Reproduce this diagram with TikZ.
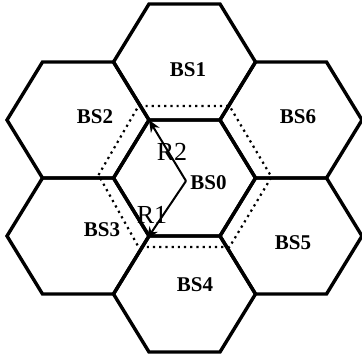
\documentclass[tikz,border=0pt]{standalone}
\usepackage{fontspec}
\setmainfont{Liberation Serif}
\usepackage{tikz}
\usetikzlibrary{arrows.meta,positioning}

\begin{document}
\begin{tikzpicture}[
  x=0.5pt,y=-0.5pt,
  cell/.style={draw=black,line width=1.7pt,line join=miter},
  reach/.style={draw=black,line width=1.1pt,dash pattern=on 1.1pt off 2pt},
  ray/.style={-{Stealth[length=6pt,width=5pt]},line width=1pt},
  bslabel/.style={font=\fontsize{10.5}{12}\selectfont\bfseries,inner sep=0pt},
  rlabel/.style={font=\fontsize{13}{15}\selectfont,inner sep=0pt}
]
\useasboundingbox (0,0) rectangle (362,354);
% cell centres
\coordinate (c0) at (184.5,178);
\coordinate (c1) at (184.5,62);
\coordinate (c2) at (78,120);
\coordinate (c3) at (78,236);
\coordinate (c4) at (184.5,294);
\coordinate (c5) at (291,236);
\coordinate (c6) at (291,120);
\foreach \c in {c0,c1,c2,c3,c4,c5,c6}
  \draw[cell] (\c) ++(-71,0) -- ++(35.5,-58) -- ++(71,0) -- ++(35.5,58)
    -- ++(-35.5,58) -- ++(-71,0) -- cycle;
% enlarged cell around BS0
\draw[reach] (c0) ++(-86,-3) -- ++(40,-69) -- ++(91,0) -- ++(42,71)
  -- ++(-42,70) -- ++(-91,0) -- cycle;
% corners reached from BS0
\coordinate (v2) at (149,120);
\coordinate (v3) at (147,239);
\coordinate (o) at (186,181);
\draw[ray] (o) -- (v2);
\draw[ray] (o) -- (v3);
\node[bslabel,anchor=west] (bs0) at (190,183) {BS0};
\node[bslabel] (bs1) at (188,70) {BS1};
\node[bslabel] (bs2) at (95,117) {BS2};
\node[bslabel] (bs3) at (102,230) {BS3};
\node[bslabel] (bs4) at (195,285) {BS4};
\node[bslabel] (bs5) at (293,243) {BS5};
\node[bslabel] (bs6) at (298,117) {BS6};
\node[rlabel] (r2) at (172,152) {R2};
\node[rlabel] (r1) at (152,215) {R1};
\end{tikzpicture}
\end{document}
